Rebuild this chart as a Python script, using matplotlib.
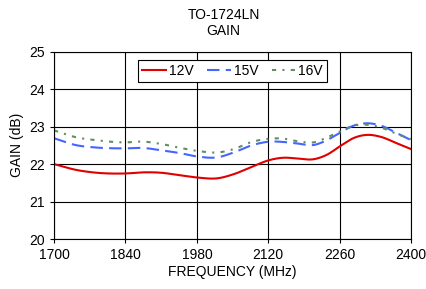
import matplotlib
matplotlib.use("Agg")
import matplotlib.pyplot as plt
import numpy as np

plt.rcParams['font.family'] = ['Liberation Sans', 'DejaVu Sans']

freq_12 = [1700, 1745, 1775, 1840, 1875, 1909, 1948, 1982, 2020, 2052, 2085, 2123, 2150, 2177, 2209, 2235, 2262, 2288, 2314, 2340, 2373, 2400]
gain_12 = [22.0, 21.84, 21.78, 21.75, 21.78, 21.77, 21.70, 21.64, 21.62, 21.73, 21.91, 22.11, 22.17, 22.15, 22.13, 22.25, 22.49, 22.70, 22.78, 22.73, 22.55, 22.40]

freq_15 = [1700, 1745, 1775, 1840, 1875, 1909, 1948, 1982, 2020, 2052, 2085, 2123, 2150, 2177, 2209, 2235, 2262, 2288, 2314, 2340, 2373, 2400]
gain_15 = [22.69, 22.50, 22.45, 22.42, 22.43, 22.37, 22.29, 22.20, 22.18, 22.31, 22.49, 22.60, 22.59, 22.55, 22.51, 22.64, 22.85, 23.03, 23.09, 23.03, 22.82, 22.64]

freq_16 = [1700, 1745, 1775, 1840, 1875, 1909, 1948, 1982, 2020, 2052, 2085, 2123, 2150, 2177, 2209, 2235, 2262, 2288, 2314, 2340, 2373, 2400]
gain_16 = [22.90, 22.71, 22.65, 22.58, 22.60, 22.54, 22.43, 22.35, 22.31, 22.40, 22.58, 22.68, 22.68, 22.61, 22.58, 22.71, 22.88, 23.03, 23.05, 22.98, 22.80, 22.67]

labels = ['12V', '15V', '16V']
x_ticks = [1700, 1840, 1980, 2120, 2260, 2400]
y_ticks = [20, 21, 22, 23, 24, 25]


def smooth(x, y, n=300):
    x = np.asarray(x, float)
    y = np.asarray(y, float)
    xs = np.linspace(x[0], x[-1], n)
    m = np.gradient(y, x)
    idx = np.clip(np.searchsorted(x, xs) - 1, 0, len(x) - 2)
    x0, x1 = x[idx], x[idx + 1]
    h = x1 - x0
    t = (xs - x0) / h
    h00 = 2 * t**3 - 3 * t**2 + 1
    h10 = t**3 - 2 * t**2 + t
    h01 = -2 * t**3 + 3 * t**2
    h11 = t**3 - t**2
    ys = h00 * y[idx] + h10 * h * m[idx] + h01 * y[idx + 1] + h11 * h * m[idx + 1]
    return xs, ys


fs = 10
fig = plt.figure(figsize=(4.26, 2.89), dpi=100)
ax = fig.add_axes([0.127, 0.173, 0.838, 0.648])

xs, ys = smooth(freq_12, gain_12)
ax.plot(xs, ys, color='#e00000', lw=1.5, ls='-', label=labels[0])
xs, ys = smooth(freq_15, gain_15)
ax.plot(xs, ys, color='#4466ff', lw=1.5, ls=(0, (6, 3)), label=labels[1])
xs, ys = smooth(freq_16, gain_16)
ax.plot(xs, ys, color='#5f8f5f', lw=1.5, ls=(0, (2, 3, 1, 3)), label=labels[2])

ax.set_xlim(1700, 2400)
ax.set_ylim(20, 25)
ax.set_xticks(x_ticks)
ax.set_yticks(y_ticks)
ax.grid(True, color='black', lw=0.8)
for s in ax.spines.values():
    s.set_color('black')
    s.set_linewidth(0.8)
ax.tick_params(labelsize=fs, length=3, width=0.8, direction='out')
ax.set_xlabel('FREQUENCY (MHz)', fontsize=fs, labelpad=2)
ax.set_ylabel('GAIN (dB)', fontsize=fs, labelpad=4)
fig.text(0.525, 0.92, 'TO-1724LN\nGAIN', ha='center', va='center', fontsize=fs, linespacing=1.25)

leg = ax.legend(loc='center', bbox_to_anchor=(0.5, 0.897), ncol=3, fontsize=fs,
                frameon=True, fancybox=False, edgecolor='black', framealpha=1,
                handlelength=1.7, columnspacing=1.0, borderpad=0.3, handletextpad=0.2)
leg.get_frame().set_linewidth(0.8)

fig.savefig('out.png', dpi=100)
